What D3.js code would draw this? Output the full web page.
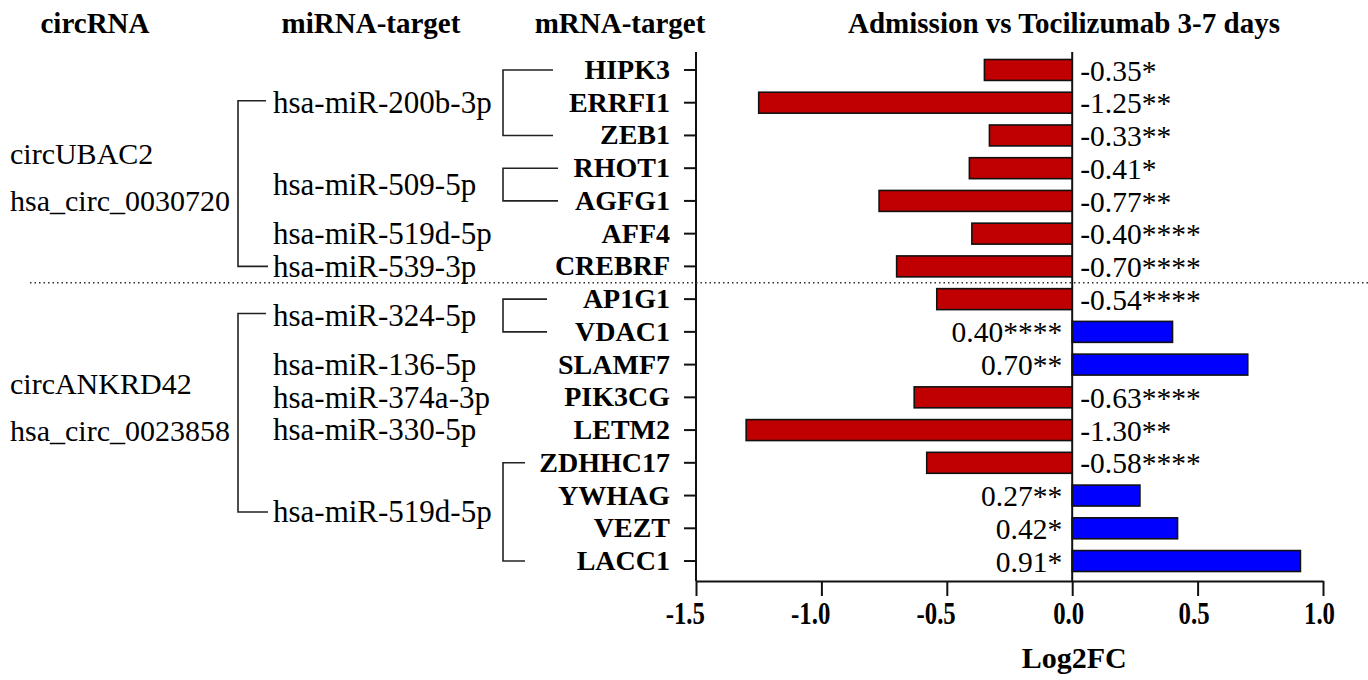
<!DOCTYPE html>
<html>
<head>
<meta charset="utf-8">
<script src="https://cdn.jsdelivr.net/npm/d3@7"></script>
<style>
  html, body { margin: 0; padding: 0; background: #fff; }
  svg { display: block; font-family: "Liberation Serif", "Times New Roman", serif; }
</style>
</head>
<body>
<svg id="chart" width="1368" height="680"></svg>
<script>
// mRNA targets (top to bottom) and their log2 fold change
const genes = ["HIPK3", "ERRFI1", "ZEB1", "RHOT1", "AGFG1", "AFF4", "CREBRF",
               "AP1G1", "VDAC1", "SLAMF7", "PIK3CG", "LETM2", "ZDHHC17", "YWHAG", "VEZT", "LACC1"];
const log2fc = [-0.35, -1.25, -0.33, -0.41, -0.77, -0.40, -0.70,
                -0.54, 0.40, 0.70, -0.63, -1.30, -0.58, 0.27, 0.42, 0.91];
const stars = ["*", "**", "**", "*", "**", "****", "****",
               "****", "****", "**", "****", "**", "****", "**", "*", "*"];

// miRNAs and the first/last mRNA target they regulate
const mirnas = ["hsa-miR-200b-3p", "hsa-miR-509-5p", "hsa-miR-519d-5p", "hsa-miR-539-3p",
                "hsa-miR-324-5p", "hsa-miR-136-5p", "hsa-miR-374a-3p", "hsa-miR-330-5p", "hsa-miR-519d-5p"];
const mirnaFirst = ["HIPK3", "RHOT1", "AFF4", "CREBRF", "AP1G1", "SLAMF7", "PIK3CG", "LETM2", "ZDHHC17"];
const mirnaLast  = ["ZEB1", "AGFG1", "AFF4", "CREBRF", "VDAC1", "SLAMF7", "PIK3CG", "LETM2", "LACC1"];

// circRNAs and the range of miRNAs (indices) they sponge
const circNames = ["circUBAC2", "circANKRD42"];
const circIds = ["hsa_circ_0030720", "hsa_circ_0023858"];
const circFirst = [0, 4];
const circLast = [3, 8];

const xTicks = [-1.5, -1.0, -0.5, 0.0, 0.5, 1.0];
const headers = ["circRNA", "miRNA-target", "mRNA-target", "Admission vs Tocilizumab 3-7 days"];

// layout
const L = {
  xLeft: 696, xRight: 1323, yTop: 52, yAxis: 581,
  bandTop: 53.6, bandBottom: 577.4,
  mirnaX: 273, mBracketX: 503, cBracketX: 238,
  mArms: [50, 55, 0, 0, 44, 0, 0, 0, 22],
  headerX: [95, 371, 620, 1064], headerY: 33,
  red: "#c00000", blue: "#0000ff"
};

const svg = d3.select("#chart");
const x = d3.scaleLinear().domain([-1.5, 1.0]).range([L.xLeft, L.xRight]);
const y = d3.scaleBand().domain(genes).range([L.bandTop, L.bandBottom])
  .paddingInner(0.36).paddingOuter(0.18);
const yc = g => y(g) + y.bandwidth() / 2;

// column headers
svg.selectAll("text.header").data(headers).join("text")
  .attr("class", "header")
  .attr("x", (d, i) => L.headerX[i]).attr("y", L.headerY)
  .attr("text-anchor", "middle")
  .attr("font-weight", "bold").attr("font-size", 29)
  .text(d => d);

// bars
const rows = genes.map((g, i) => ({ g, v: log2fc[i], s: stars[i] }));
svg.selectAll("rect.bar").data(rows).join("rect")
  .attr("class", "bar")
  .attr("x", d => x(Math.min(0, d.v)))
  .attr("width", d => Math.abs(x(d.v) - x(0)))
  .attr("y", d => y(d.g))
  .attr("height", y.bandwidth())
  .attr("fill", d => d.v < 0 ? L.red : L.blue)
  .attr("stroke", "#111").attr("stroke-width", 1.6);

// value labels
svg.selectAll("text.val").data(rows).join("text")
  .attr("class", "val")
  .attr("x", d => d.v < 0 ? x(0) + 8 : x(0) - 10)
  .attr("y", d => yc(d.g))
  .attr("dy", "0.36em")
  .attr("text-anchor", d => d.v < 0 ? "start" : "end")
  .attr("font-size", 29.5)
  .text(d => (d.v < 0 ? "-" : "") + Math.abs(d.v).toFixed(2) + d.s);

// zero line
svg.append("line")
  .attr("x1", x(0)).attr("x2", x(0)).attr("y1", L.yTop).attr("y2", L.yAxis)
  .attr("stroke", "#111").attr("stroke-width", 2);

// y axis with gene labels
const yAxis = svg.append("g").attr("transform", `translate(${L.xLeft},0)`)
  .call(d3.axisLeft(y).tickSize(12).tickSizeOuter(0).tickPadding(14));
yAxis.select(".domain").remove();
yAxis.append("line").attr("x1", 0).attr("x2", 0).attr("y1", L.yTop).attr("y2", L.yAxis)
  .attr("stroke", "#111").attr("stroke-width", 2);
yAxis.selectAll(".tick line").attr("stroke", "#111").attr("stroke-width", 2);
yAxis.selectAll(".tick text")
  .attr("font-family", "Liberation Serif, Times New Roman, serif")
  .attr("font-weight", "bold").attr("font-size", 28).attr("fill", "#000");

// x axis (condensed bold tick labels, digits centred on the tick)
const xAxis = svg.append("g").attr("transform", `translate(0,${L.yAxis})`)
  .call(d3.axisBottom(x).tickValues(xTicks).tickSize(15).tickSizeOuter(0).tickPadding(6));
xAxis.select(".domain").attr("stroke", "#111").attr("stroke-width", 2);
xAxis.selectAll(".tick line").attr("stroke", "#111").attr("stroke-width", 2);
xAxis.selectAll(".tick text")
  .attr("font-family", "Liberation Serif, Times New Roman, serif")
  .attr("font-weight", "bold").attr("font-size", 31).attr("fill", "#000")
  .text(d => d3.format(".1f")(d).replace("\u2212", "-"))
  .attr("x", d => d < 0 ? -14 : -5)
  .attr("transform", "scale(0.8,1)");

svg.append("text")
  .attr("x", x(0) + 2).attr("y", 668)
  .attr("text-anchor", "middle")
  .attr("font-weight", "bold").attr("font-size", 30)
  .text("Log2FC");

// miRNA labels and their brackets to the mRNA targets
const mir = mirnas.map((m, i) => ({
  m, i, y1: yc(mirnaFirst[i]), y2: yc(mirnaLast[i]),
  mid: (yc(mirnaFirst[i]) + yc(mirnaLast[i])) / 2
}));
svg.selectAll("text.mir").data(mir).join("text")
  .attr("class", "mir")
  .attr("x", L.mirnaX).attr("y", d => d.mid).attr("dy", "0.33em")
  .attr("font-size", 31)
  .text(d => d.m);

const line = d3.line();
svg.selectAll("path.mbr").data(mir.filter(d => d.y1 !== d.y2)).join("path")
  .attr("class", "mbr")
  .attr("d", d => line([
    [L.mBracketX + L.mArms[d.i], d.y1], [L.mBracketX, d.y1],
    [L.mBracketX, d.y2], [L.mBracketX + L.mArms[d.i], d.y2]]))
  .attr("fill", "none").attr("stroke", "#222").attr("stroke-width", 1.6);

// circRNA labels and brackets to miRNAs
const circ = circNames.map((c, i) => {
  const a = mir[circFirst[i]].mid, b = mir[circLast[i]].mid;
  return { c, id: circIds[i], a, b, mid: (a + b) / 2 };
});
svg.selectAll("path.cbr").data(circ).join("path")
  .attr("class", "cbr")
  .attr("d", d => line([
    [L.mirnaX - 7, d.a - 2], [L.cBracketX, d.a - 2],
    [L.cBracketX, d.b], [L.mirnaX - 5, d.b]]))
  .attr("fill", "none").attr("stroke", "#222").attr("stroke-width", 1.6);
svg.selectAll("text.cname").data(circ).join("text")
  .attr("class", "cname")
  .attr("x", 10).attr("y", d => d.mid - 30).attr("dy", "0.33em")
  .attr("font-size", 30).text(d => d.c);
svg.selectAll("text.cid").data(circ).join("text")
  .attr("class", "cid")
  .attr("x", 10).attr("y", d => d.mid + 17).attr("dy", "0.33em")
  .attr("font-size", 30).text(d => d.id);

// dotted separator between the two circRNA groups
const sepY = (yc("CREBRF") + yc("AP1G1")) / 2;
svg.append("line")
  .attr("x1", 30).attr("x2", 1368).attr("y1", sepY).attr("y2", sepY)
  .attr("stroke", "#333").attr("stroke-width", 1.5)
  .attr("stroke-dasharray", "1.5,3");
</script>
</body>
</html>
